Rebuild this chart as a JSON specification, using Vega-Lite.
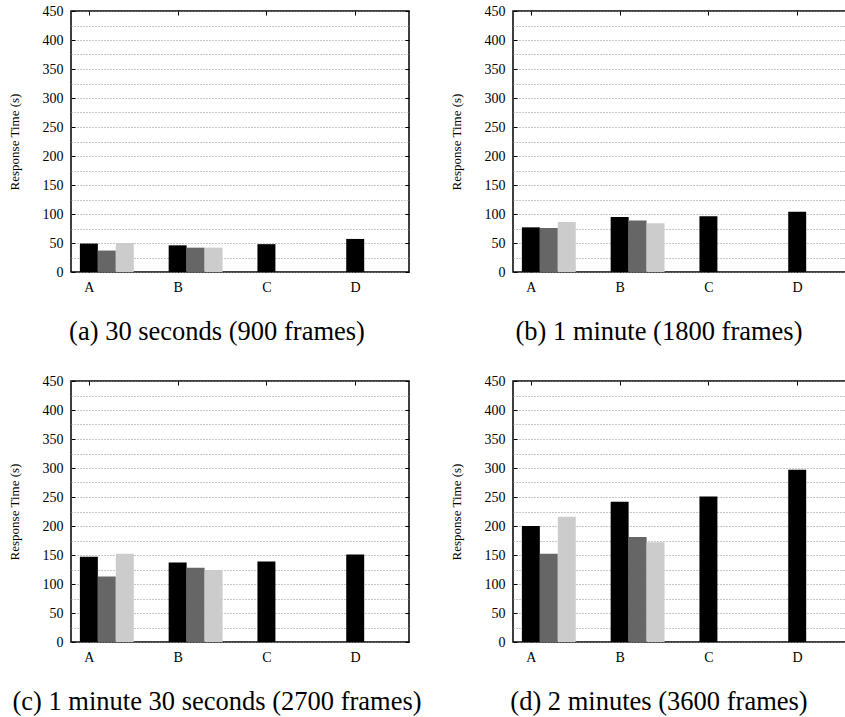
{
  "$schema": "https://vega.github.io/schema/vega-lite/v6.json",
  "padding": {"left": 7, "top": 3, "right": 0, "bottom": 0},
  "background": "white",
  "columns": 2,
  "spacing": {"row": 26, "column": 26},
  "config": {
    "font": "Liberation Serif, serif",
    "view": {"stroke": "#000000", "strokeWidth": 1.5},
    "axis": {"labelColor": "#000000", "titleColor": "#000000", "tickColor": "#000000", "labelFontSize": 14, "titleFontSize": 13, "titleFontWeight": "normal", "labelFont": "Liberation Serif, serif", "titleFont": "Liberation Serif, serif"},
    "title": {"font": "Liberation Serif, serif", "fontSize": 26.5, "fontWeight": "normal", "color": "#000000", "orient": "bottom", "anchor": "middle", "offset": 25, "dx": -23, "baseline": "top"}
  },
  "concat": [
    {
      "width": 338, "height": 261,
      "title": "(a) 30 seconds (900 frames)",
      "data": {"values": [
        {"group": "A", "series": "s1", "value": 49},
        {"group": "A", "series": "s2", "value": 37},
        {"group": "A", "series": "s3", "value": 50},
        {"group": "B", "series": "s1", "value": 46},
        {"group": "B", "series": "s2", "value": 42},
        {"group": "B", "series": "s3", "value": 42},
        {"group": "C", "series": "s1", "value": 48},
        {"group": "D", "series": "s1", "value": 57}
      ]},
      "layer": [
        {
          "mark": {"type": "bar"},
          "encoding": {
            "x": {"field": "group", "type": "nominal", "scale": {"domain": ["A", "B", "C", "D"], "paddingInner": 0.393, "paddingOuter": 0.1}, "axis": {"orient": "bottom", "title": null, "labelAngle": 0, "tickOffset": -18, "tickSize": -4, "labelPadding": 12, "domain": false, "grid": false}},
            "xOffset": {"field": "series", "type": "nominal", "scale": {"domain": ["s1", "s2", "s3"]}},
            "y": {"field": "value", "type": "quantitative", "scale": {"domain": [0, 450], "nice": false}, "axis": {"orient": "left", "title": "Response Time (s)", "titlePadding": 21, "values": [0, 25, 50, 75, 100, 125, 150, 175, 200, 225, 250, 275, 300, 325, 350, 375, 400, 425, 450], "labelExpr": "datum.value % 50 === 0 ? datum.label : ''", "grid": true, "gridDash": [1, 2], "gridColor": "#8c8c8c", "gridWidth": 1, "tickOpacity": {"condition": {"test": "datum.value % 50 === 0", "value": 1}, "value": 0}, "tickSize": -4, "labelPadding": 12, "domain": false}},
            "color": {"field": "series", "type": "nominal", "scale": {"domain": ["s1", "s2", "s3"], "range": ["#000000", "#666666", "#cccccc"]}, "legend": null}
          }
        },
        {
          "mark": {"type": "bar", "opacity": 0},
          "encoding": {
            "x": {"field": "group", "type": "nominal", "axis": {"orient": "top", "title": null, "labels": false, "tickOffset": -18, "tickSize": -4, "domain": false, "grid": false}},
            "xOffset": {"field": "series", "type": "nominal"},
            "y": {"field": "value", "type": "quantitative", "axis": {"orient": "right", "title": null, "labels": false, "values": [0, 50, 100, 150, 200, 250, 300, 350, 400, 450], "tickSize": -4, "grid": false, "domain": false}}
          }
        }
      ],
      "resolve": {"axis": {"x": "independent", "y": "independent"}}
    },
    {
      "width": 338, "height": 261,
      "title": "(b) 1 minute (1800 frames)",
      "data": {"values": [
        {"group": "A", "series": "s1", "value": 77},
        {"group": "A", "series": "s2", "value": 76},
        {"group": "A", "series": "s3", "value": 86},
        {"group": "B", "series": "s1", "value": 95},
        {"group": "B", "series": "s2", "value": 89},
        {"group": "B", "series": "s3", "value": 84},
        {"group": "C", "series": "s1", "value": 96},
        {"group": "D", "series": "s1", "value": 104}
      ]},
      "layer": [
        {
          "mark": {"type": "bar"},
          "encoding": {
            "x": {"field": "group", "type": "nominal", "scale": {"domain": ["A", "B", "C", "D"], "paddingInner": 0.393, "paddingOuter": 0.1}, "axis": {"orient": "bottom", "title": null, "labelAngle": 0, "tickOffset": -18, "tickSize": -4, "labelPadding": 12, "domain": false, "grid": false}},
            "xOffset": {"field": "series", "type": "nominal", "scale": {"domain": ["s1", "s2", "s3"]}},
            "y": {"field": "value", "type": "quantitative", "scale": {"domain": [0, 450], "nice": false}, "axis": {"orient": "left", "title": "Response Time (s)", "titlePadding": 21, "values": [0, 25, 50, 75, 100, 125, 150, 175, 200, 225, 250, 275, 300, 325, 350, 375, 400, 425, 450], "labelExpr": "datum.value % 50 === 0 ? datum.label : ''", "grid": true, "gridDash": [1, 2], "gridColor": "#8c8c8c", "gridWidth": 1, "tickOpacity": {"condition": {"test": "datum.value % 50 === 0", "value": 1}, "value": 0}, "tickSize": -4, "labelPadding": 12, "domain": false}},
            "color": {"field": "series", "type": "nominal", "scale": {"domain": ["s1", "s2", "s3"], "range": ["#000000", "#666666", "#cccccc"]}, "legend": null}
          }
        },
        {
          "mark": {"type": "bar", "opacity": 0},
          "encoding": {
            "x": {"field": "group", "type": "nominal", "axis": {"orient": "top", "title": null, "labels": false, "tickOffset": -18, "tickSize": -4, "domain": false, "grid": false}},
            "xOffset": {"field": "series", "type": "nominal"},
            "y": {"field": "value", "type": "quantitative", "axis": {"orient": "right", "title": null, "labels": false, "values": [0, 50, 100, 150, 200, 250, 300, 350, 400, 450], "tickSize": -4, "grid": false, "domain": false}}
          }
        }
      ],
      "resolve": {"axis": {"x": "independent", "y": "independent"}}
    },
    {
      "width": 338, "height": 261,
      "title": "(c) 1 minute 30 seconds (2700 frames)",
      "data": {"values": [
        {"group": "A", "series": "s1", "value": 147},
        {"group": "A", "series": "s2", "value": 113},
        {"group": "A", "series": "s3", "value": 152},
        {"group": "B", "series": "s1", "value": 137},
        {"group": "B", "series": "s2", "value": 128},
        {"group": "B", "series": "s3", "value": 124},
        {"group": "C", "series": "s1", "value": 139},
        {"group": "D", "series": "s1", "value": 151}
      ]},
      "layer": [
        {
          "mark": {"type": "bar"},
          "encoding": {
            "x": {"field": "group", "type": "nominal", "scale": {"domain": ["A", "B", "C", "D"], "paddingInner": 0.393, "paddingOuter": 0.1}, "axis": {"orient": "bottom", "title": null, "labelAngle": 0, "tickOffset": -18, "tickSize": -4, "labelPadding": 12, "domain": false, "grid": false}},
            "xOffset": {"field": "series", "type": "nominal", "scale": {"domain": ["s1", "s2", "s3"]}},
            "y": {"field": "value", "type": "quantitative", "scale": {"domain": [0, 450], "nice": false}, "axis": {"orient": "left", "title": "Response Time (s)", "titlePadding": 21, "values": [0, 25, 50, 75, 100, 125, 150, 175, 200, 225, 250, 275, 300, 325, 350, 375, 400, 425, 450], "labelExpr": "datum.value % 50 === 0 ? datum.label : ''", "grid": true, "gridDash": [1, 2], "gridColor": "#8c8c8c", "gridWidth": 1, "tickOpacity": {"condition": {"test": "datum.value % 50 === 0", "value": 1}, "value": 0}, "tickSize": -4, "labelPadding": 12, "domain": false}},
            "color": {"field": "series", "type": "nominal", "scale": {"domain": ["s1", "s2", "s3"], "range": ["#000000", "#666666", "#cccccc"]}, "legend": null}
          }
        },
        {
          "mark": {"type": "bar", "opacity": 0},
          "encoding": {
            "x": {"field": "group", "type": "nominal", "axis": {"orient": "top", "title": null, "labels": false, "tickOffset": -18, "tickSize": -4, "domain": false, "grid": false}},
            "xOffset": {"field": "series", "type": "nominal"},
            "y": {"field": "value", "type": "quantitative", "axis": {"orient": "right", "title": null, "labels": false, "values": [0, 50, 100, 150, 200, 250, 300, 350, 400, 450], "tickSize": -4, "grid": false, "domain": false}}
          }
        }
      ],
      "resolve": {"axis": {"x": "independent", "y": "independent"}}
    },
    {
      "width": 338, "height": 261,
      "title": "(d) 2 minutes (3600 frames)",
      "data": {"values": [
        {"group": "A", "series": "s1", "value": 200},
        {"group": "A", "series": "s2", "value": 152},
        {"group": "A", "series": "s3", "value": 216},
        {"group": "B", "series": "s1", "value": 242},
        {"group": "B", "series": "s2", "value": 181},
        {"group": "B", "series": "s3", "value": 172},
        {"group": "C", "series": "s1", "value": 251},
        {"group": "D", "series": "s1", "value": 297}
      ]},
      "layer": [
        {
          "mark": {"type": "bar"},
          "encoding": {
            "x": {"field": "group", "type": "nominal", "scale": {"domain": ["A", "B", "C", "D"], "paddingInner": 0.393, "paddingOuter": 0.1}, "axis": {"orient": "bottom", "title": null, "labelAngle": 0, "tickOffset": -18, "tickSize": -4, "labelPadding": 12, "domain": false, "grid": false}},
            "xOffset": {"field": "series", "type": "nominal", "scale": {"domain": ["s1", "s2", "s3"]}},
            "y": {"field": "value", "type": "quantitative", "scale": {"domain": [0, 450], "nice": false}, "axis": {"orient": "left", "title": "Response Time (s)", "titlePadding": 21, "values": [0, 25, 50, 75, 100, 125, 150, 175, 200, 225, 250, 275, 300, 325, 350, 375, 400, 425, 450], "labelExpr": "datum.value % 50 === 0 ? datum.label : ''", "grid": true, "gridDash": [1, 2], "gridColor": "#8c8c8c", "gridWidth": 1, "tickOpacity": {"condition": {"test": "datum.value % 50 === 0", "value": 1}, "value": 0}, "tickSize": -4, "labelPadding": 12, "domain": false}},
            "color": {"field": "series", "type": "nominal", "scale": {"domain": ["s1", "s2", "s3"], "range": ["#000000", "#666666", "#cccccc"]}, "legend": null}
          }
        },
        {
          "mark": {"type": "bar", "opacity": 0},
          "encoding": {
            "x": {"field": "group", "type": "nominal", "axis": {"orient": "top", "title": null, "labels": false, "tickOffset": -18, "tickSize": -4, "domain": false, "grid": false}},
            "xOffset": {"field": "series", "type": "nominal"},
            "y": {"field": "value", "type": "quantitative", "axis": {"orient": "right", "title": null, "labels": false, "values": [0, 50, 100, 150, 200, 250, 300, 350, 400, 450], "tickSize": -4, "grid": false, "domain": false}}
          }
        }
      ],
      "resolve": {"axis": {"x": "independent", "y": "independent"}}
    }
  ]
}
